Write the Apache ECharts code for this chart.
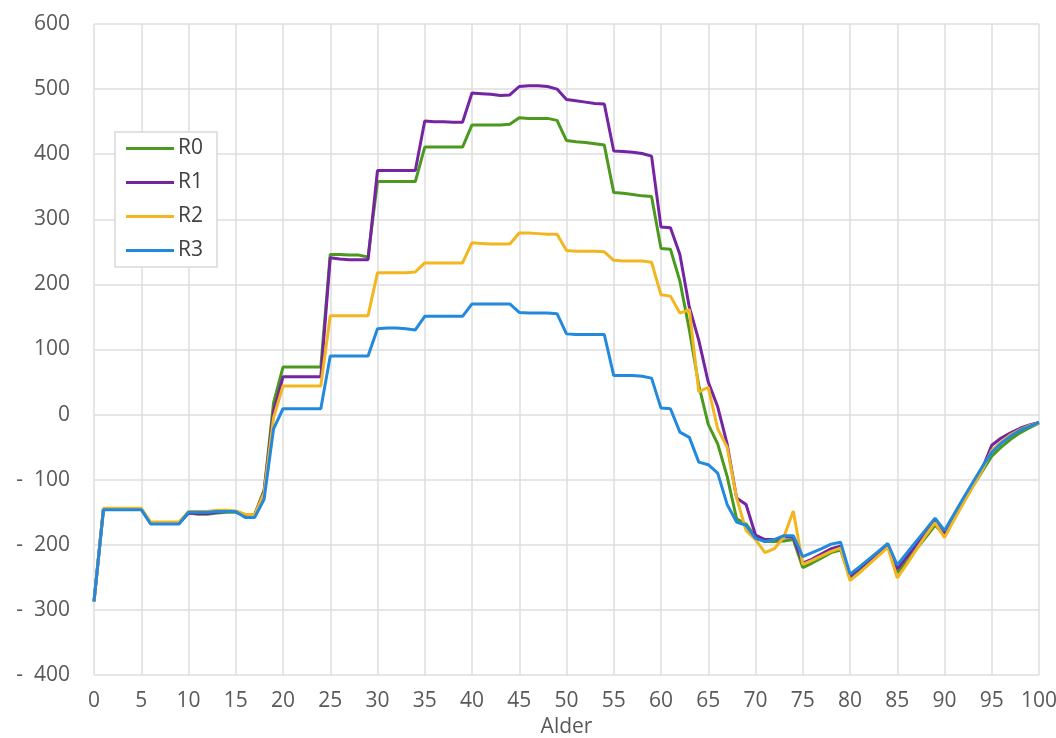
<!DOCTYPE html>
<html>
<head>
<meta charset="utf-8">
<script src="https://cdn.jsdelivr.net/npm/echarts@6/dist/echarts.min.js"></script>
<style>
html,body{margin:0;padding:0;background:#fff;}
#chart{width:1056px;height:738px;}
</style>
</head>
<body>
<div id="chart"></div>
<script>
const ages = [0,1,2,3,4,5,6,7,8,9,10,11,12,13,14,15,16,17,18,19,20,21,22,23,24,25,26,27,28,29,30,31,32,33,34,35,36,37,38,39,40,41,42,43,44,45,46,47,48,49,50,51,52,53,54,55,56,57,58,59,60,61,62,63,64,65,66,67,68,69,70,71,72,73,74,75,76,77,78,79,80,81,82,83,84,85,86,87,88,89,90,91,92,93,94,95,96,97,98,99,100];

const seriesNames = ['R0','R1','R2','R3'];

const R0 = [-287,-145,-145,-145,-145,-145,-167,-167,-167,-167,
  -151,-153,-153,-151,-150,-150,-155,-153,-116,18,
  73,73,73,73,73,246,246,245,245,242,
  358,358,358,358,358,411,411,411,411,411,
  445,445,445,445,446,456,455,455,455,452,
  421,419,418,416,414,341,340,338,336,335,
  255,254,205,130,45,-15,-45,-95,-160,-168,
  -188,-195,-195,-194,-192,-235,-228,-220,-212,-208,
  -250,-238,-226,-214,-202,-243,-225,-207,-189,-170,
  -185,-160,-135,-110,-87,-64,-50,-38,-28,-20,-13];

const R1 = [-287,-145,-145,-145,-145,-145,-167,-167,-167,-167,
  -151,-152,-152,-150,-149,-149,-156,-155,-118,5,
  58,58,58,58,58,241,239,238,238,238,
  375,375,375,375,375,451,450,450,449,449,
  494,493,492,490,491,504,505,505,504,500,
  484,482,480,478,477,405,404,403,401,397,
  288,287,246,165,114,50,12,-45,-128,-138,
  -185,-192,-192,-188,-188,-228,-222,-214,-206,-202,
  -248,-236,-224,-212,-200,-237,-219,-200,-182,-163,
  -182,-157,-132,-107,-83,-47,-36,-28,-21,-16,-12];

const R2 = [-287,-144,-144,-144,-144,-144,-165,-165,-165,-165,
  -149,-149,-149,-147,-147,-148,-153,-154,-120,-5,
  44,44,44,44,44,152,152,152,152,152,
  218,218,218,218,219,233,233,233,233,233,
  264,263,262,262,262,279,279,278,277,277,
  252,251,251,251,250,237,236,236,236,234,
  184,182,156,161,35,42,-22,-50,-128,-178,
  -192,-212,-206,-188,-148,-230,-224,-217,-210,-205,
  -255,-243,-230,-217,-204,-251,-230,-208,-186,-166,
  -189,-162,-136,-110,-85,-55,-42,-31,-23,-17,-13];

const R3 = [-287,-146,-146,-146,-146,-146,-168,-168,-168,-168,
  -150,-150,-150,-149,-149,-149,-158,-158,-130,-22,
  9,9,9,9,9,90,90,90,90,90,
  132,133,133,132,130,151,151,151,151,151,
  170,170,170,170,170,157,156,156,156,155,
  124,123,123,123,123,60,60,60,59,56,
  10,9,-27,-35,-73,-77,-90,-138,-165,-170,
  -190,-195,-192,-186,-186,-218,-212,-206,-199,-196,
  -245,-234,-222,-210,-198,-231,-213,-195,-177,-159,
  -178,-153,-128,-104,-80,-58,-44,-33,-24,-18,-12];

const yTicks = [-400,-300,-200,-100,0,100,200,300,400,500,600];
const xTicks = [0,5,10,15,20,25,30,35,40,45,50,55,60,65,70,75,80,85,90,95,100];

const colors = ['#4b9a1e','#7524a3','#f4b620','#2289dd'];
const allData = [R0,R1,R2,R3];
const FONT = 'Open Sans';
const FS = 21;

const chart = echarts.init(document.getElementById('chart'));
chart.setOption({
  backgroundColor:'#ffffff',
  animation:false,
  textStyle:{fontFamily:FONT},
  grid:{left:94,right:17,top:24,bottom:63,containLabel:false,outerBoundsMode:'none'},
  legend:{
    orient:'vertical',
    left:115, top:132,
    data:seriesNames,
    icon:'rect',
    itemWidth:48, itemHeight:3,
    itemGap:13,
    padding:[6,14,6,11],
    borderColor:'#d9d9d9', borderWidth:1.5,
    backgroundColor:'#ffffff',
    textStyle:{color:'#404040',fontSize:FS,fontFamily:FONT,padding:[0,0,0,-1]}
  },
  xAxis:{
    type:'value', min:xTicks[0], max:xTicks[xTicks.length-1], interval:5,
    name:'Alder', nameLocation:'middle', nameGap:42,
    nameTextStyle:{color:'#595959',fontSize:FS,fontFamily:FONT},
    axisLine:{show:false}, axisTick:{show:false},
    axisLabel:{color:'#595959',fontSize:FS,fontFamily:FONT,margin:16},
    splitLine:{show:true,lineStyle:{color:'#dedede',width:1.5}}
  },
  yAxis:{
    type:'value', min:yTicks[0], max:yTicks[yTicks.length-1], interval:100,
    axisLine:{show:false}, axisTick:{show:false},
    axisLabel:{color:'#595959',fontSize:FS,fontFamily:FONT,margin:24,
      formatter:function(v){return v<0 ? '-  '+Math.abs(v) : String(v);}},
    splitLine:{show:true,lineStyle:{color:'#dedede',width:1.5}}
  },
  series:seriesNames.map(function(n,i){
    return {
      name:n, type:'line', showSymbol:false, symbol:'none',
      data:ages.map(function(a,j){return [a, allData[i][j]];}),
      lineStyle:{width:3,color:colors[i]},
      itemStyle:{color:colors[i]},
      z:2+i
    };
  })
});
</script>
</body>
</html>
